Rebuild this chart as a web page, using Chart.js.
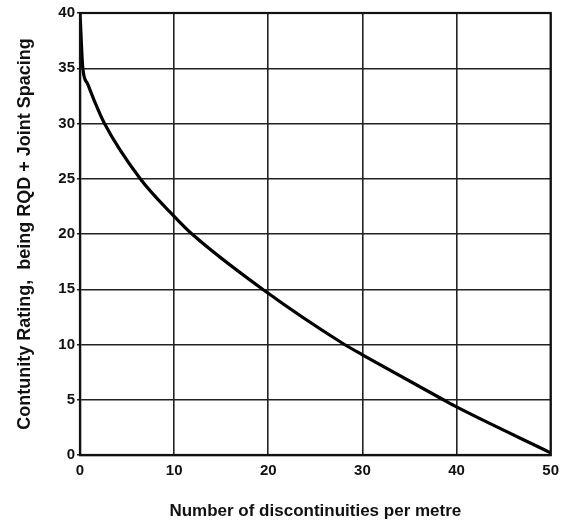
<!DOCTYPE html>
<html>
<head>
<meta charset="utf-8">
<script src="https://cdn.jsdelivr.net/npm/chart.js@4.4.1/dist/chart.umd.min.js"></script>
<style>
  html, body { margin: 0; padding: 0; background: #ffffff; }
  #wrap { width: 566px; height: 524px; position: relative; }
</style>
</head>
<body>
<div id="wrap"><canvas id="c" width="566" height="524"></canvas></div>
<script>
// Data
const discontinuities = [0, 0.3, 0.8, 1.5, 2.6, 6.4, 10, 11.9, 19.4, 28.1, 30, 38.6, 40, 50];
const ratings         = [40, 35, 33.6, 32.1, 30, 25, 21.6, 20, 15, 10, 9.07, 5, 4.35, 0.2];
const xTicks = [0, 10, 20, 30, 40, 50];
const yTicks = [0, 5, 10, 15, 20, 25, 30, 35, 40];
const xTitle = 'Number of discontinuities per metre';
const yTitle = 'Contunity Rating,  being RQD + Joint Spacing';

const FONT = '"Liberation Sans", Arial, sans-serif';

const points = discontinuities.map((x, i) => ({ x: x, y: ratings[i] }));

const frame = {
  id: 'frame',
  afterDatasetsDraw(chart) {
    const a = chart.chartArea, ctx = chart.ctx;
    ctx.save();
    ctx.strokeStyle = '#111';
    ctx.lineWidth = 2.2;
    ctx.strokeRect(a.left, a.top, a.right - a.left, a.bottom - a.top);
    ctx.restore();
  }
};

new Chart(document.getElementById('c'), {
  type: 'line',
  data: {
    datasets: [{
      data: points,
      borderColor: '#000',
      borderWidth: 3.2,
      pointRadius: 0,
      fill: false,
      cubicInterpolationMode: 'monotone'
    }]
  },
  options: {
    responsive: false,
    animation: false,
    layout: { padding: { top: 13, right: 9, left: 0, bottom: 0 } },
    plugins: { legend: { display: false }, tooltip: { enabled: false } },
    scales: {
      x: {
        type: 'linear',
        min: 0, max: 50,
        afterBuildTicks: s => { s.ticks = xTicks.map(v => ({ value: v })); },
        afterFit: s => { s.height = 69; },
        grid: { color: '#222', lineWidth: 1.6, drawTicks: false },
        border: { color: '#111', width: 2.2 },
        ticks: { color: '#111', padding: 7, maxRotation: 0, font: { family: FONT, size: 15, weight: 'bold' } },
        title: { display: true, text: xTitle, color: '#111', padding: { top: 0, bottom: 2 },
                 font: { family: FONT, size: 17, weight: 'bold' } }
      },
      y: {
        type: 'linear',
        min: 0, max: 40,
        afterBuildTicks: s => { s.ticks = yTicks.map(v => ({ value: v })); },
        afterFit: s => { s.width = 80; },
        grid: { color: '#222', lineWidth: 1.4, tickLength: 3 },
        border: { color: '#111', width: 2.2 },
        ticks: { color: '#111', padding: 2, font: { family: FONT, size: 15, weight: 'bold' } },
        title: { display: true, text: yTitle, color: '#111', padding: { top: 14, bottom: 0 },
                 font: { family: FONT, size: 18, weight: 'bold' } }
      }
    }
  },
  plugins: [frame]
});
</script>
</body>
</html>
